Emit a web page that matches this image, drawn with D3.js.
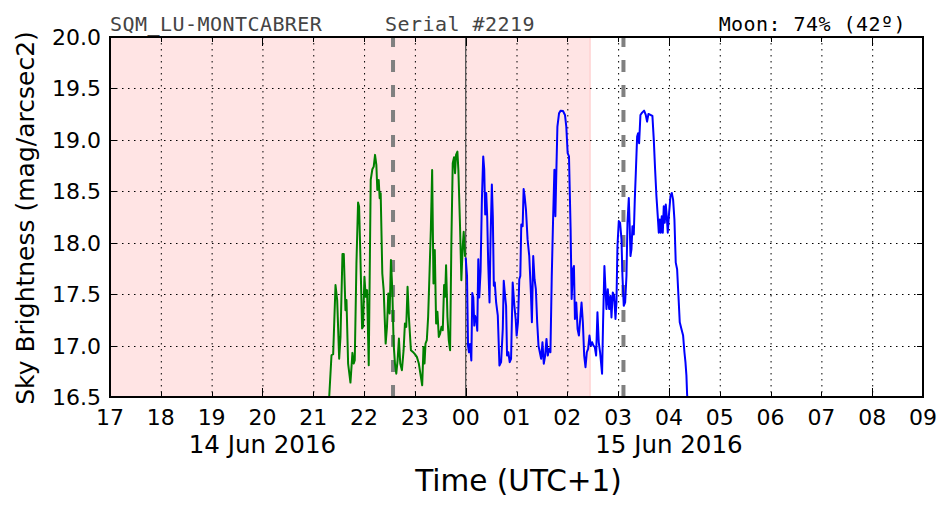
<!DOCTYPE html>
<html>
<head>
<meta charset="utf-8">
<script src="https://cdn.jsdelivr.net/npm/d3@7"></script>
<style>
  html, body { margin: 0; padding: 0; background: #fff; }
  svg { display: block; }
</style>
</head>
<body>
<svg id="chart" width="952" height="512"></svg>
<script>
// ---------------- DATA ----------------
// time in decimal hours (UTC+1), hours >= 24 belong to 15 Jun 2016
const xTicks = d3.range(17, 34);                 // 17 .. 33 (=09)
const xTickLabels = xTicks.map(h => String(h % 24).padStart(2, "0"));
const yTicks = [16.5, 17.0, 17.5, 18.0, 18.5, 19.0, 19.5, 20.0];
const yTickLabels = yTicks.map(v => v.toFixed(1));
const dateLabels = [{h: 20, label: "14 Jun 2016"}, {h: 28, label: "15 Jun 2016"}];

const nightShade = [17.0, 26.447];          // pink (Sun-limited) span
const twilightLines = [22.57, 27.105];      // gray dashed lines
const midnight = [24.0];

const greenTime = [21.28,21.314,21.359,21.392,21.438,21.471,21.510,21.536,21.575,21.601,21.634,21.654,21.686,21.732,21.771,21.797,21.817,21.850,21.882,21.902,21.928,21.961,21.980,22.007,22.033,22.059,22.092,22.131,22.163,22.190,22.216,22.242,22.261,22.288,22.307,22.327,22.359,22.386,22.425,22.451,22.477,22.503,22.529,22.556,22.582,22.608,22.634,22.660,22.686,22.712,22.745,22.778,22.804,22.830,22.856,22.882,22.922,22.961,23.000,23.039,23.078,23.118,23.144,23.170,23.190,23.209,23.235,23.261,23.288,23.314,23.340,23.366,23.392,23.418,23.444,23.471,23.497,23.523,23.549,23.575,23.595,23.614,23.641,23.667,23.693,23.719,23.745,23.771,23.791,23.810,23.837,23.856,23.889,23.915,23.941,23.961,23.987];
const greenMag  = [16.40,16.50,16.906,16.916,17.588,17.442,16.873,17.084,17.890,17.890,17.344,17.442,16.825,16.640,16.929,16.825,16.857,17.799,18.390,18.351,17.864,17.166,17.182,17.669,17.474,17.539,16.808,18.610,18.714,18.740,18.854,18.756,18.513,18.610,18.432,18.481,17.701,17.539,17.019,17.182,17.506,17.312,17.831,17.539,17.019,16.825,16.727,16.857,17.068,16.825,16.760,16.955,17.214,17.182,17.571,17.279,16.955,16.938,16.916,16.890,16.825,16.695,16.614,16.987,16.825,17.019,17.052,17.279,17.701,18.123,18.708,17.604,17.929,17.214,17.328,17.084,17.117,17.182,17.149,17.588,17.474,17.782,17.279,17.052,16.955,18.026,18.773,18.831,18.675,18.854,18.886,18.708,18.156,17.636,17.961,18.107,17.864];

const blueTime = [24.000,24.026,24.046,24.065,24.085,24.111,24.130,24.150,24.169,24.182,24.208,24.228,24.248,24.267,24.293,24.319,24.345,24.365,24.384,24.404,24.423,24.443,24.469,24.489,24.515,24.534,24.554,24.573,24.599,24.632,24.664,24.697,24.730,24.749,24.775,24.795,24.814,24.840,24.866,24.893,24.925,24.958,24.984,25.003,25.029,25.055,25.075,25.094,25.121,25.140,25.160,25.186,25.218,25.251,25.283,25.303,25.329,25.355,25.381,25.407,25.433,25.459,25.485,25.511,25.537,25.564,25.590,25.616,25.642,25.668,25.694,25.720,25.746,25.765,25.785,25.805,25.837,25.870,25.915,25.954,25.980,26.007,26.033,26.065,26.085,26.111,26.130,26.150,26.176,26.202,26.228,26.254,26.280,26.306,26.332,26.358,26.384,26.410,26.436,26.463,26.489,26.515,26.541,26.567,26.593,26.619,26.645,26.684,26.704,26.730,26.770,26.797,26.823,26.849,26.869,26.895,26.921,26.948,26.967,26.987,27.013,27.039,27.066,27.085,27.111,27.138,27.164,27.184,27.210,27.230,27.243,27.262,27.282,27.308,27.328,27.348,27.374,27.393,27.413,27.439,27.472,27.511,27.544,27.570,27.597,27.636,27.675,27.702,27.728,27.754,27.780,27.800,27.820,27.839,27.859,27.879,27.898,27.918,27.938,27.957,27.977,28.003,28.030,28.056,28.082,28.108,28.134,28.161,28.187,28.213,28.246,28.279,28.305,28.325,28.344,28.357,28.375];
const blueMag  = [17.855,17.677,17.000,16.935,17.016,16.855,17.510,17.468,17.194,17.290,17.258,17.145,17.839,17.468,17.726,18.419,18.839,18.710,18.274,18.484,18.258,17.806,17.419,18.032,18.565,18.258,17.581,17.613,17.419,17.290,16.806,16.839,17.161,17.629,17.484,17.387,16.903,16.935,16.839,16.871,17.613,17.387,17.258,17.097,17.226,17.645,17.677,18.177,18.161,18.523,18.452,18.323,18.032,17.871,17.516,17.226,17.871,17.645,17.548,17.226,17.000,16.935,16.871,17.032,16.823,16.903,17.065,16.903,16.968,16.935,17.677,18.226,18.710,18.258,18.710,19.129,19.258,19.284,19.281,19.242,19.129,18.871,18.839,18.129,17.452,17.742,17.774,17.258,17.419,17.161,17.097,17.258,17.419,17.226,16.903,16.790,16.935,16.968,17.097,17.000,17.032,17.000,16.984,16.903,17.323,17.032,16.935,16.726,17.226,17.774,17.355,17.548,17.355,17.484,17.274,17.516,17.484,17.258,17.419,17.968,18.210,18.194,18.032,17.677,17.387,17.419,17.677,18.194,18.435,18.129,17.871,17.935,18.161,18.081,18.419,18.677,19.032,19.065,18.968,19.242,19.265,19.284,19.242,19.177,19.252,19.242,19.232,19.000,18.710,18.452,18.258,18.097,18.226,18.097,18.258,18.097,18.355,18.194,18.371,18.258,18.097,18.290,18.452,18.484,18.419,18.226,17.806,17.742,17.484,17.226,17.161,17.097,16.935,16.839,16.710,16.532,16.40];

const titleLeft = "SQM_LU-MONTCABRER";
const titleSerial = "Serial #2219";
const titleMoon = "Moon: 74% (42º)";
const xLabel = "Time (UTC+1)";
const yLabel = "Sky Brightness (mag/arcsec2)";

// ---------------- DRAW ----------------
const L = 110, R = 923, T = 37, B = 397;
const svg = d3.select("#chart");
const x = d3.scaleLinear().domain([17, 33]).range([L, R]);
const y = d3.scaleLinear().domain([16.5, 20.0]).range([B, T]);

svg.append("defs").append("clipPath").attr("id", "clip")
  .append("rect").attr("x", L).attr("y", T).attr("width", R - L).attr("height", B - T);

const plot = svg.append("g").attr("clip-path", "url(#clip)");

// pink span
plot.append("rect")
  .attr("x", x(nightShade[0])).attr("y", T)
  .attr("width", x(nightShade[1]) - x(nightShade[0])).attr("height", B - T)
  .attr("fill", "#ffe4e4");
plot.append("line")
  .attr("x1", x(nightShade[1])).attr("x2", x(nightShade[1]))
  .attr("y1", T).attr("y2", B)
  .attr("stroke", "#ffd2d2").attr("stroke-width", 1.5);

// grid
const grid = plot.append("g").attr("stroke", "#000").attr("stroke-width", 1)
  .attr("stroke-dasharray", "1.5,4.5");
xTicks.slice(1, -1).forEach(h => grid.append("line")
  .attr("x1", x(h) + 0.5).attr("x2", x(h) + 0.5).attr("y1", T).attr("y2", B));
yTicks.slice(1, -1).forEach(v => grid.append("line")
  .attr("x1", L).attr("x2", R).attr("y1", Math.round(y(v)) + 0.5).attr("y2", Math.round(y(v)) + 0.5));

// dashed twilight lines
twilightLines.forEach(h => plot.append("line")
  .attr("x1", x(h)).attr("x2", x(h)).attr("y1", T).attr("y2", B)
  .attr("stroke", "#808080").attr("stroke-width", 4)
  .attr("stroke-dasharray", "12,13").attr("stroke-dashoffset", 2));

// midnight line
midnight.forEach(h => plot.append("line")
  .attr("x1", x(h)).attr("x2", x(h)).attr("y1", T).attr("y2", B)
  .attr("stroke", "#555").attr("stroke-width", 1.3));

// data lines
const line = d3.line().x(d => x(d[0])).y(d => y(d[1]));
plot.append("path").datum(d3.zip(greenTime, greenMag))
  .attr("d", line).attr("fill", "none").attr("stroke", "#008000")
  .attr("stroke-width", 2).attr("stroke-linejoin", "round");
plot.append("path").datum(d3.zip(blueTime, blueMag))
  .attr("d", line).attr("fill", "none").attr("stroke", "#0000ff")
  .attr("stroke-width", 2).attr("stroke-linejoin", "round");

// ticks (inward)
const ticks = svg.append("g").attr("stroke", "#000").attr("stroke-width", 1);
xTicks.forEach(h => {
  const len = (h % 4 === 0) ? 9 : 5;
  const xx = Math.round(x(h)) + 0.5;
  ticks.append("line").attr("x1", xx).attr("x2", xx).attr("y1", B).attr("y2", B - len);
  ticks.append("line").attr("x1", xx).attr("x2", xx).attr("y1", T).attr("y2", T + len);
});
yTicks.forEach(v => {
  const yy = Math.round(y(v)) + 0.5;
  ticks.append("line").attr("x1", L).attr("x2", L + 6).attr("y1", yy).attr("y2", yy);
  ticks.append("line").attr("x1", R).attr("x2", R - 6).attr("y1", yy).attr("y2", yy);
});

// frame
svg.append("rect").attr("x", L).attr("y", T).attr("width", R - L).attr("height", B - T)
  .attr("fill", "none").attr("stroke", "#000").attr("stroke-width", 2);

// tick labels
const font = "DejaVu Sans, sans-serif";
svg.append("g").selectAll("text").data(xTicks).join("text")
  .attr("x", d => x(d)).attr("y", 425)
  .attr("text-anchor", "middle").attr("font-family", font).attr("font-size", 22)
  .text((d, i) => xTickLabels[i]);
svg.append("g").selectAll("text").data(yTicks).join("text")
  .attr("x", 101).attr("y", d => y(d) + 8)
  .attr("text-anchor", "end").attr("font-family", font).attr("font-size", 22)
  .text((d, i) => yTickLabels[i]);

// date labels
svg.append("g").selectAll("text").data(dateLabels).join("text")
  .attr("x", d => x(d.h)).attr("y", 453)
  .attr("text-anchor", "middle").attr("font-family", font).attr("font-size", 24.5)
  .text(d => d.label);

// axis titles
svg.append("text").attr("x", (L + R) / 2 + 2).attr("y", 491)
  .attr("text-anchor", "middle").attr("font-family", font).attr("font-size", 29.5)
  .text(xLabel);
svg.append("text")
  .attr("transform", "translate(34,218) rotate(-90)")
  .attr("text-anchor", "middle").attr("font-family", font).attr("font-size", 25)
  .text(yLabel);

// header texts
const mono = "DejaVu Sans Mono, monospace";
svg.append("text").attr("x", 110).attr("y", 30.5).attr("font-family", mono)
  .attr("font-size", 20).attr("letter-spacing", 0.45).attr("fill", "#444").text(titleLeft);
svg.append("text").attr("x", 385).attr("y", 30.5).attr("font-family", mono)
  .attr("font-size", 20).attr("letter-spacing", 0.45).attr("fill", "#444").text(titleSerial);
svg.append("text").attr("x", 906).attr("y", 30.5).attr("text-anchor", "end").attr("font-family", mono)
  .attr("font-size", 20).attr("letter-spacing", 0.45).attr("fill", "#000").text(titleMoon);
</script>
</body>
</html>
